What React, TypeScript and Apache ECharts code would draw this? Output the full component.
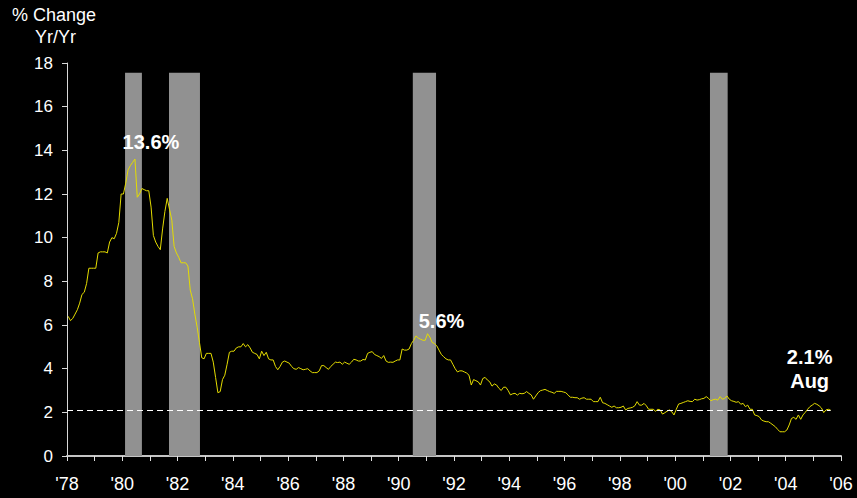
import React, { useEffect, useRef } from "react";
import * as echarts from "echarts";

// Core consumer prices, % change year over year, monthly (Jan..Dec)
const core1978 = [6.4, 6.2, 6.3, 6.5, 6.7, 7.0, 7.4, 7.5, 7.9, 8.6, 8.6, 8.6];
const core1979 = [8.6, 9.3, 9.35, 9.35, 9.35, 9.3, 9.8, 10.0, 9.95, 10.2, 10.7, 12.0];
const core1980 = [12.0, 12.5, 13.1, 13.3, 13.45, 13.6, 11.85, 12.0, 12.25, 12.2, 12.15, 12.15];
const core1981 = [11.4, 10.1, 9.8, 9.6, 9.45, 10.4, 11.2, 11.8, 11.3, 10.8, 9.6, 9.3];
const core1982 = [9.1, 8.85, 8.85, 8.85, 8.7, 7.6, 7.2, 6.5, 5.9, 5.2, 4.5, 4.45];
const core1983 = [4.7, 4.7, 4.7, 4.3, 3.6, 2.9, 2.95, 3.5, 3.7, 4.2, 4.75, 4.8];
const core1984 = [4.8, 4.95, 5.0, 5.0, 5.15, 5.0, 5.1, 4.95, 4.75, 4.7, 4.65, 4.45];
const core1985 = [4.8, 4.6, 4.75, 4.45, 4.4, 4.4, 4.1, 3.95, 4.1, 4.3, 4.35, 4.3];
const core1986 = [4.25, 4.1, 4.0, 3.97, 4.05, 4.0, 3.95, 3.97, 4.0, 3.9, 3.82, 3.82];
const core1987 = [3.82, 3.9, 4.14, 4.14, 4.05, 3.97, 4.1, 4.2, 4.3, 4.28, 4.3, 4.2];
const core1988 = [4.3, 4.25, 4.2, 4.3, 4.43, 4.4, 4.35, 4.35, 4.42, 4.4, 4.7, 4.75];
const core1989 = [4.78, 4.65, 4.6, 4.55, 4.47, 4.6, 4.35, 4.29, 4.3, 4.29, 4.35, 4.4];
const core1990 = [4.4, 4.9, 4.85, 4.85, 4.9, 5.15, 5.3, 5.5, 5.4, 5.35, 5.3, 5.3];
const core1991 = [5.6, 5.45, 5.2, 5.15, 5.05, 4.85, 4.65, 4.55, 4.45, 4.4, 4.4, 4.2];
const core1992 = [4.0, 3.85, 3.9, 3.9, 3.85, 3.8, 3.7, 3.25, 3.5, 3.45, 3.4, 3.25];
const core1993 = [3.55, 3.6, 3.48, 3.4, 3.2, 3.3, 3.25, 3.1, 3.0, 3.15, 3.15, 3.0];
const core1994 = [2.8, 2.85, 2.87, 2.79, 2.87, 2.85, 2.87, 2.95, 2.87, 2.8, 2.6, 2.75];
const core1995 = [2.9, 2.99, 3.02, 3.05, 3.0, 2.95, 2.92, 2.87, 2.96, 2.96, 2.96, 2.93];
const core1996 = [2.9, 2.8, 2.69, 2.69, 2.67, 2.67, 2.6, 2.65, 2.67, 2.6, 2.6, 2.6];
const core1997 = [2.49, 2.49, 2.49, 2.69, 2.44, 2.41, 2.35, 2.29, 2.23, 2.29, 2.21, 2.21];
const core1998 = [2.23, 2.29, 2.11, 2.18, 2.2, 2.23, 2.3, 2.49, 2.33, 2.33, 2.41, 2.3];
const core1999 = [2.14, 2.14, 2.14, 2.05, 2.14, 2.11, 1.92, 1.98, 2.05, 2.11, 2.03, 1.88];
const core2000 = [2.14, 2.38, 2.41, 2.45, 2.49, 2.53, 2.5, 2.49, 2.6, 2.56, 2.58, 2.62];
const core2001 = [2.64, 2.72, 2.64, 2.53, 2.58, 2.6, 2.56, 2.72, 2.6, 2.64, 2.75, 2.6];
const core2002 = [2.53, 2.5, 2.46, 2.49, 2.37, 2.41, 2.26, 2.33, 2.14, 2.14, 1.88, 1.85];
const core2003 = [1.8, 1.65, 1.6, 1.57, 1.57, 1.5, 1.42, 1.34, 1.22, 1.11, 1.11, 1.11];
const core2004 = [1.19, 1.42, 1.72, 1.77, 1.68, 1.88, 1.68, 1.88, 2.0, 2.14, 2.26, 2.33];
const core2005 = [2.41, 2.37, 2.3, 2.2, 1.99, 2.11, 2.14, 2.1];

const firstYear = 1978;
const yearlyRows = [
  core1978, core1979, core1980, core1981, core1982, core1983, core1984,
  core1985, core1986, core1987, core1988, core1989, core1990, core1991,
  core1992, core1993, core1994, core1995, core1996, core1997, core1998,
  core1999, core2000, core2001, core2002, core2003, core2004, core2005,
];

// Recession periods, in fractional years
const recessions = [
  [1980.1, 1980.71],
  [1981.69, 1982.81],
  [1990.51, 1991.35],
  [2001.26, 2001.9],
];
const recessionTop = 17.55;

// Axis ranges and callouts
const xMin = 1978;
const xMax = 2006;
const yMin = 0;
const yMax = 18;
const yStep = 2;
const referenceLevel = 2.1;
const peakLabels = ["13.6%", "5.6%"];
const latestLabel = ["2.1%", "Aug"];

const FONT = "'Liberation Sans', Arial, Helvetica, sans-serif";

function buildSeries(): [number, number][] {
  const out: [number, number][] = [];
  yearlyRows.forEach((row, yi) => {
    row.forEach((v, m) => {
      out.push([firstYear + yi + (m + 0.5) / 12, v]);
    });
  });
  return out;
}

export default function App() {
  const ref = useRef<HTMLDivElement>(null);

  useEffect(() => {
    document.body.style.margin = "0";
    document.body.style.background = "#000";
    if (!ref.current) return;
    const chart = echarts.init(ref.current, undefined, { renderer: "svg" });

    const points = buildSeries();
    const findPeak = (from: number, to: number) => {
      let best: [number, number] | null = null;
      for (const p of points) {
        if (p[0] >= from && p[0] < to && (!best || p[1] > best[1])) best = p;
      }
      return best as [number, number];
    };
    const peak80 = findPeak(1979, 1982);
    const peak90 = findPeak(1989, 1993);
    const last = points[points.length - 1];

    const calloutLabel = {
      show: true,
      position: "inside" as const,
      color: "#ffffff",
      fontFamily: FONT,
      fontWeight: "bold" as const,
      fontSize: 20,
      lineHeight: 24,
    };

    chart.setOption({
      animation: false,
      backgroundColor: "#000000",
      grid: {
        left: 67,
        right: 16,
        top: 63,
        bottom: 42,
        outerBoundsMode: "none",
      },
      xAxis: {
        type: "value",
        min: xMin,
        max: xMax,
        interval: 1,
        axisLine: { show: true, lineStyle: { color: "#c4c4c4", width: 2 } },
        axisTick: { show: true, length: 5, lineStyle: { color: "#e0e0e0", width: 1 } },
        splitLine: { show: false },
        axisLabel: {
          color: "#ffffff",
          fontFamily: FONT,
          fontSize: 18,
          margin: 19,
          showMinLabel: true,
          showMaxLabel: true,
          formatter: (v: number) =>
            Math.round(v) % 2 === 0 ? "'" + String(Math.round(v)).slice(2) : "",
        },
      },
      yAxis: {
        type: "value",
        min: yMin,
        max: yMax,
        interval: yStep,
        axisLine: { show: true, lineStyle: { color: "#d8d8d8", width: 1 } },
        axisTick: { show: true, length: 5, lineStyle: { color: "#d8d8d8", width: 1 } },
        splitLine: { show: false },
        axisLabel: {
          color: "#ffffff",
          fontFamily: FONT,
          fontSize: 17,
          margin: 14,
        },
      },
      graphic: [
        {
          type: "text",
          left: 12,
          top: 6,
          style: {
            text: "% Change",
            fill: "#ffffff",
            font: `18px ${FONT}`,
          },
        },
        {
          type: "text",
          left: 35,
          top: 28,
          style: {
            text: "Yr/Yr",
            fill: "#ffffff",
            font: `18px ${FONT}`,
          },
        },
      ],
      series: [
        {
          name: "Recessions",
          type: "line",
          data: [],
          z: 1,
          silent: true,
          markArea: {
            silent: true,
            itemStyle: { color: "#919191", opacity: 1 },
            data: recessions.map(([a, b]) => [
              { xAxis: a, yAxis: 0 },
              { xAxis: b, yAxis: recessionTop },
            ]),
          },
        },
        {
          name: "Core CPI",
          type: "line",
          data: points,
          z: 3,
          showSymbol: false,
          symbol: "none",
          lineStyle: { color: "#e4dc00", width: 1 },
          markLine: {
            silent: true,
            symbol: ["none", "none"],
            label: { show: false },
            lineStyle: { color: "#ffffff", width: 1, type: [6, 4] },
            data: [[{ coord: [xMin, referenceLevel] }, { coord: [last[0], referenceLevel] }]],
          },
          markPoint: {
            silent: true,
            symbol: "circle",
            symbolSize: 0,
            data: [
              {
                coord: peak80,
                label: { ...calloutLabel, offset: [16, -17], formatter: peakLabels[0] },
              },
              {
                coord: peak90,
                label: { ...calloutLabel, offset: [14, -13], formatter: peakLabels[1] },
              },
              {
                coord: last,
                label: {
                  ...calloutLabel,
                  offset: [-21, -41],
                  formatter: latestLabel.join("\n"),
                },
              },
            ],
          },
        },
      ],
    });

    return () => chart.dispose();
  }, []);

  return <div ref={ref} style={{ width: 857, height: 498, background: "#000" }} />;
}
